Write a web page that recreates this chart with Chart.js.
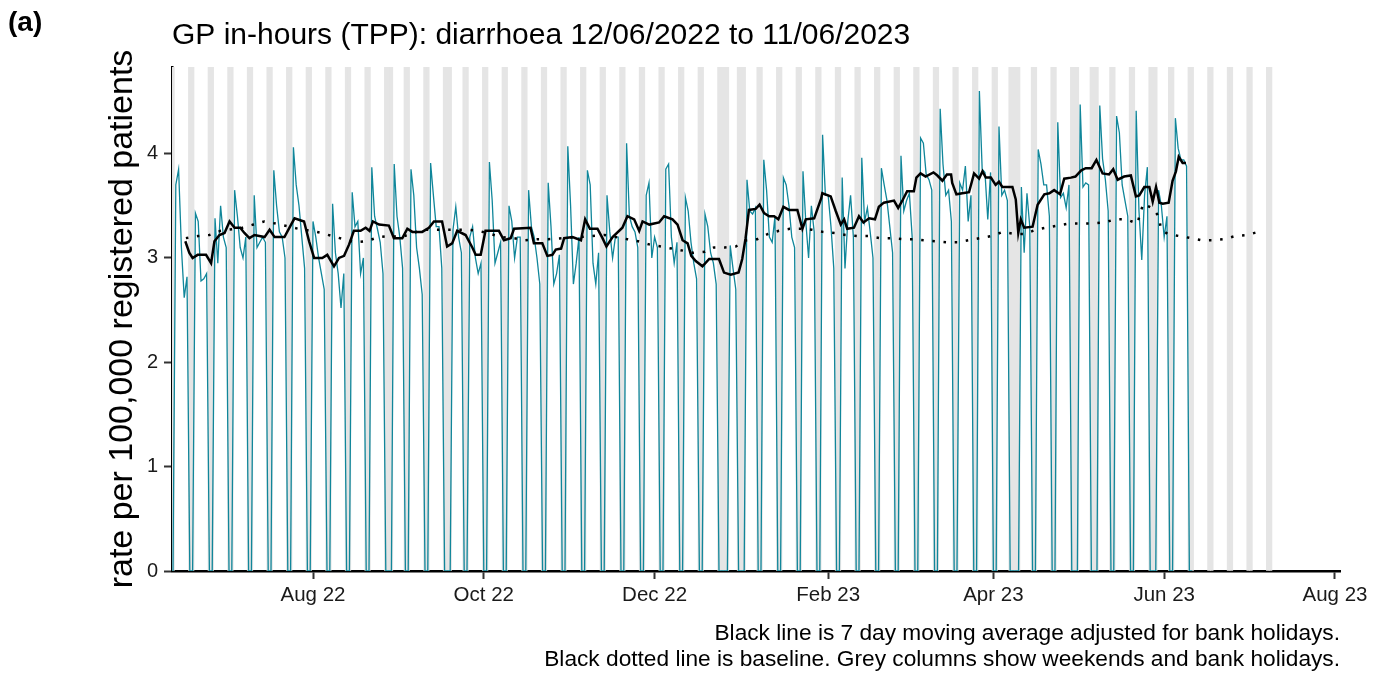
<!DOCTYPE html>
<html>
<head>
<meta charset="utf-8">
<script src="https://cdn.jsdelivr.net/npm/chart.js@4.4.1/dist/chart.umd.min.js"></script>
<style>
  body { margin: 0; background: #fff; }
  #wrap { position: relative; width: 1391px; height: 674px; }
  #panel { position: absolute; left: 8px; top: 6px; font: bold 28px "Liberation Sans", Arial, sans-serif; color: #000; }
</style>
</head>
<body>
<div id="wrap">
  <canvas id="gpChart" width="1391" height="674"></canvas>
  <div id="panel">(a)</div>
</div>
<script>
// day 0 = Sunday 12/06/2022
const startDate = '2022-06-12';

// daily rate per 100,000, one row per week (Sun..Sat)
const dailyRate = [
  0, 3.70, 3.85, 3.10, 2.62, 2.82, 0,
  0, 3.43, 3.35, 2.78, 2.80, 2.85, 0,
  0, 3.38, 2.95, 3.50, 3.20, 3.10, 0,
  0, 3.65, 3.40, 3.10, 3.00, 3.20, 0,
  0, 3.60, 3.10, 3.15, 3.20, 3.15, 0,
  0, 3.84, 3.50, 3.25, 3.20, 3.00, 0,
  0, 4.06, 3.70, 3.50, 3.20, 2.90, 0,
  0, 3.35, 3.20, 3.00, 2.85, 2.70, 0,
  0, 3.52, 3.05, 2.85, 2.52, 2.85, 0,
  0, 3.63, 3.30, 3.35, 2.85, 3.00, 0,
  0, 3.87, 3.40, 3.28, 3.15, 2.85, 0,
  0, 0,    3.90, 3.40, 3.20, 2.90, 0,
  0, 3.85, 3.60, 3.10, 2.90, 2.65, 0,
  0, 3.91, 3.60, 3.30, 3.30, 2.90, 0,
  0, 0,    3.27, 3.49, 3.20, 3.05, 0,
  0, 3.20, 3.30, 3.00, 2.85, 2.95, 0,
  0, 3.92, 3.55, 2.95, 3.05, 3.15, 0,
  0, 3.50, 3.35, 3.00, 3.20, 3.20, 0,
  0, 3.65, 3.30, 3.20, 3.00, 2.75, 0,
  0, 3.72, 3.30, 2.75, 2.85, 3.03, 0,
  0, 4.07, 3.50, 2.75, 2.95, 3.20, 0,
  0, 3.84, 3.70, 2.95, 2.75, 3.05, 0,
  0, 3.60, 3.25, 3.00, 3.20, 3.20, 0,
  0, 4.10, 3.40, 3.30, 3.25, 3.10, 0,
  0, 3.60, 3.72, 3.00, 3.20, 3.10, 0,
  0, 3.85, 3.90, 3.20, 2.95, 3.15, 0,
  0, 3.58, 3.45, 3.15, 2.95, 2.80, 0,
  0, 3.42, 3.30, 3.05, 2.95, 2.75, 0,
  0, 0,    0,    3.12, 2.90, 2.70, 0,
  0, 0,    3.75, 3.45, 3.42, 3.48, 0,
  0, 3.94, 3.65, 3.20, 3.15, 3.40, 0,
  0, 3.77, 3.70, 3.50, 3.20, 3.10, 0,
  0, 3.83, 3.35, 3.00, 3.50, 3.25, 0,
  0, 4.18, 3.60, 3.60, 3.30, 2.90, 0,
  0, 3.77, 2.90, 3.35, 3.60, 3.20, 0,
  0, 3.96, 3.35, 3.48, 3.25, 3.00, 0,
  0, 3.86, 3.70, 3.55, 3.30, 3.05, 0,
  0, 3.98, 3.45, 3.55, 3.62, 3.20, 0,
  0, 4.15, 4.10, 3.80, 3.75, 3.65, 0,
  0, 4.43, 3.90, 3.60, 3.65, 3.35, 0,
  0, 3.72, 3.65, 3.88, 3.35, 3.60, 0,
  0, 4.60, 3.85, 3.82, 3.37, 3.82, 0,
  0, 4.26, 3.60, 3.65, 3.55, 0,    0,
  0, 0,    3.68, 3.05, 3.62, 3.30, 0,
  0, 4.04, 3.90, 3.70, 3.70, 3.40, 0,
  0, 4.30, 3.58, 3.62, 3.48, 3.70, 0,
  0, 0,    4.47, 3.68, 3.72, 3.70, 0,
  0, 0,    4.46, 3.95, 3.75, 3.45, 0,
  0, 4.36, 4.20, 3.70, 3.55, 3.40, 0,
  0, 4.41, 3.45, 2.98, 3.60, 3.87, 0,
  0, 0,    3.65, 3.50, 3.20, 3.40, 0,
  0, 4.34, 4.05, 3.94, 3.94, 3.88, 0,
  0
];

// 7 day moving average, [day, rate]
const movingAvg = [
  [4.4,3.16],[5.8,3.05],[7,3.0],[8.8,3.03],[11.8,3.03],[13.6,2.95],[14.8,3.16],[16.6,3.22],
  [18.4,3.24],[20.2,3.35],[22,3.29],[24,3.29],[25.5,3.24],[27.3,3.19],[29.1,3.22],[32.7,3.2],
  [34.5,3.27],[36.3,3.2],[39.8,3.2],[41.6,3.29],[43.4,3.38],[46.8,3.35],[48.6,3.16],[50.4,3.0],
  [53.3,3.0],[55.1,3.03],[57.5,2.92],[59.3,3.0],[61.1,3.02],[62.9,3.13],[64.6,3.26],[67,3.26],
  [68.8,3.29],[70.2,3.26],[71.4,3.35],[73.6,3.32],[77.1,3.31],[78.9,3.19],[81.9,3.19],[83.7,3.28],
  [85.5,3.25],[89,3.25],[91.4,3.29],[93.2,3.35],[96.1,3.35],[97.9,3.11],[99.7,3.14],[101.5,3.26],
  [104.5,3.22],[106.9,3.1],[108.1,3.03],[109.9,3.03],[111.6,3.26],[116.4,3.26],[118.2,3.17],[120.6,3.19],
  [121.8,3.28],[127.7,3.29],[128.9,3.14],[131.9,3.14],[133.7,3.02],[135.5,3.03],[136.7,3.08],[138.6,3.09],
  [139.7,3.19],[142.7,3.2],[145.7,3.17],[147.2,3.37],[148.9,3.28],[151.6,3.28],[153.4,3.19],[154.8,3.11],
  [157,3.2],[160.5,3.29],[162.3,3.4],[164.7,3.37],[166.5,3.26],[167.7,3.35],[170.1,3.32],[173.6,3.34],
  [175.4,3.4],[178.4,3.37],[180.2,3.32],[182,3.17],[183.8,3.14],[185.1,3.02],[186.7,2.97],[189.1,2.92],
  [191.5,2.99],[195,2.99],[196.8,2.86],[199.2,2.84],[202,2.86],[203.3,2.99],[204.5,3.19],[205.7,3.46],
  [208.1,3.47],[209.5,3.51],[211.1,3.43],[212.9,3.4],[214.7,3.4],[216.2,3.37],[218,3.49],[220,3.46],
  [223,3.46],[224.8,3.28],[226,3.37],[229,3.38],[231.5,3.57],[231.9,3.62],[234.9,3.59],[236.7,3.45],
  [238.5,3.32],[239.7,3.37],[240.8,3.28],[243.2,3.29],[245,3.4],[246.6,3.34],[248.6,3.38],[250.7,3.37],
  [252.1,3.49],[253.9,3.53],[257.5,3.55],[259,3.48],[260.7,3.56],[262.2,3.64],[264.6,3.64],[265.5,3.77],
  [267,3.81],[268.8,3.78],[271.6,3.82],[273,3.79],[274.8,3.74],[276.4,3.8],[277.9,3.8],[278.3,3.72],
  [279.8,3.61],[281.9,3.62],[284.3,3.63],[286.1,3.81],[287.9,3.76],[289.1,3.83],[290.3,3.77],[292.1,3.77],
  [293.8,3.7],[295,3.73],[296.2,3.68],[299.8,3.68],[301,3.56],[301.9,3.24],[302.8,3.37],[304,3.29],
  [307,3.3],[308.8,3.51],[311.2,3.61],[313,3.62],[314.7,3.65],[316.8,3.61],[318.3,3.76],[320.7,3.77],
  [322.3,3.78],[324.4,3.84],[326,3.86],[328.1,3.86],[329.8,3.94],[332,3.81],[334.3,3.8],[335.8,3.85],
  [337.4,3.75],[339.7,3.78],[342.1,3.79],[343.9,3.59],[345.1,3.6],[346.9,3.68],[348.7,3.68],[349.9,3.54],
  [351.1,3.68],[352.3,3.53],[353.5,3.52],[355.6,3.53],[357,3.74],[358.2,3.83],[359.2,3.97],[360.6,3.91],
  [361.8,3.91]
];

// baseline, [day, rate]
const baseline = [
  [4.6,3.19],[8.9,3.21],[13,3.22],[17,3.26],[24.8,3.29],[28.7,3.32],[32.6,3.35],[36.6,3.33],
  [44.7,3.28],[49.3,3.26],[52.9,3.24],[56.8,3.21],[60.9,3.18],[65.1,3.15],[69,3.16],[73.4,3.2],
  [77.3,3.21],[81.5,3.2],[89.3,3.27],[105.4,3.27],[109.2,3.26],[113.3,3.23],[117.5,3.2],[121.7,3.19],
  [125.8,3.17],[130,3.18],[134,3.18],[149.8,3.21],[154,3.22],[162.3,3.18],[166.1,3.16],[170,3.13],
  [174.2,3.11],[178.1,3.09],[182.2,3.07],[185.7,3.05],[190,3.06],[193.2,3.1],[197.1,3.1],[201,3.11],
  [204.8,3.17],[208.7,3.18],[212.5,3.23],[216.4,3.26],[220.3,3.28],[224.2,3.28],[228.2,3.27],[232.1,3.25],
  [236.3,3.24],[240.2,3.22],[244.4,3.21],[248.3,3.21],[252.4,3.19],[256.3,3.19],[260.5,3.18],[264.4,3.18],
  [268.4,3.17],[272.4,3.16],[276.4,3.15],[280.4,3.15],[284.2,3.17],[288.3,3.19],[292.3,3.21],[296.4,3.25],
  [300.6,3.23],[304.4,3.23],[308,3.27],[311.9,3.29],[316.1,3.31],[320.1,3.33],[324.2,3.33],[328.4,3.33],
  [332.5,3.34],[336.5,3.37],[340.5,3.37],[344.4,3.33],[345.4,3.42],[346.5,3.52],[350.2,3.47],[352.2,3.39],
  [352.8,3.28],[355.2,3.23],[359.4,3.21],[363.6,3.19],[367.5,3.17],[371.7,3.17],[375.5,3.18],[379.4,3.21],
  [383.6,3.22],[387.6,3.25],[389,3.27]
];

const bankHolidays = ['2022-08-29', '2022-09-19', '2022-12-26', '2022-12-27', '2023-01-02',
  '2023-04-07', '2023-04-10', '2023-05-01', '2023-05-08', '2023-05-29'];
const greyLastDate = '2023-07-09';

const xTickDates = ['2022-08-01', '2022-10-01', '2022-12-01', '2023-02-01', '2023-04-01', '2023-06-01', '2023-08-01'];
const xTickLabels = ['Aug 22', 'Oct 22', 'Dec 22', 'Feb 23', 'Apr 23', 'Jun 23', 'Aug 23'];
const yTicks = [0, 1, 2, 3, 4];
const yTop = 4.83;

function dayIndex(s) {
  const p = s.split('-').map(Number), q = startDate.split('-').map(Number);
  return Math.round((Date.UTC(p[0], p[1] - 1, p[2]) - Date.UTC(q[0], q[1] - 1, q[2])) / 864e5);
}

// weekends and bank holidays -> grey columns
const holidayIdx = bankHolidays.map(dayIndex);
const greyDays = [];
for (let d = 0; d <= dayIndex(greyLastDate); d++) {
  if (d % 7 === 0 || d % 7 === 6 || holidayIdx.includes(d)) greyDays.push(d);
}

const FONT = '"Liberation Sans", Arial, sans-serif';
const ctx = document.getElementById('gpChart').getContext('2d');

new Chart(ctx, {
  type: 'line',
  data: {
    datasets: [
      {
        type: 'bar',
        data: greyDays.map(d => ({ x: d, y: yTop })),
        backgroundColor: '#e5e5e5',
        borderWidth: 0,
        barPercentage: 1,
        categoryPercentage: 1,
        order: 10
      },
      {
        data: dailyRate.map((v, i) => ({ x: i, y: v })),
        borderColor: '#10869a',
        borderWidth: 1.3,
        pointRadius: 0,
        tension: 0,
        order: 5
      },
      {
        data: baseline.map(p => ({ x: p[0], y: p[1] })),
        borderColor: '#000',
        borderWidth: 2.5,
        borderDash: [2.5, 8.7],
        borderCapStyle: 'butt',
        pointRadius: 0,
        tension: 0,
        order: 2
      },
      {
        data: movingAvg.map(p => ({ x: p[0], y: p[1] })),
        borderColor: '#000',
        borderWidth: 2.5,
        pointRadius: 0,
        tension: 0,
        order: 1
      }
    ]
  },
  options: {
    responsive: false,
    animation: false,
    devicePixelRatio: 1,
    layout: { padding: { left: 0, right: 51, top: 0, bottom: 0 } },
    plugins: {
      legend: { display: false },
      tooltip: { enabled: false },
      title: {
        display: true,
        text: 'GP in-hours (TPP): diarrhoea 12/06/2022 to 11/06/2023',
        align: 'start',
        fullSize: false,
        color: '#000',
        font: { family: FONT, size: 30, weight: 'normal' },
        padding: { top: 18, bottom: 13 }
      },
      subtitle: {
        display: true,
        position: 'bottom',
        align: 'end',
        fullSize: false,
        color: '#000',
        text: ['Black line is 7 day moving average adjusted for bank holidays.',
               'Black dotted line is baseline. Grey columns show weekends and bank holidays.'],
        font: { family: FONT, size: 22.7, lineHeight: 1.145 },
        padding: { top: 6, bottom: 1 }
      }
    },
    scales: {
      x: {
        type: 'linear',
        offset: false,
        min: -0.36,
        max: 416.8,
        afterBuildTicks: s => { s.ticks = xTickDates.map(d => ({ value: dayIndex(d) })); },
        afterFit: s => { s.height = 44; },
        grid: { offset: false, drawOnChartArea: false, tickLength: 8, tickColor: '#333', tickWidth: 2 },
        border: { display: true, color: '#000', width: 2.5 },
        ticks: {
          autoSkip: false,
          maxRotation: 0,
          padding: 4,
          color: '#1a1a1a',
          font: { family: FONT, size: 20.5 },
          callback: (v, i) => xTickLabels[i]
        }
      },
      y: {
        min: 0,
        max: yTop,
        afterBuildTicks: s => { s.ticks = yTicks.map(v => ({ value: v })); },
        afterFit: s => { s.width = 172; },
        grid: { drawOnChartArea: false, tickLength: 8, tickColor: '#333', tickWidth: 2 },
        border: { display: true, color: '#000', width: 2.5 },
        ticks: {
          padding: 6,
          color: '#1a1a1a',
          font: { family: FONT, size: 20 }
        },
        title: {
          display: true,
          text: 'rate per 100,000 registered patients',
          color: '#000',
          font: { family: FONT, size: 34 },
          padding: { top: 102, bottom: 0 }
        }
      }
    }
  }
});
</script>
</body>
</html>
